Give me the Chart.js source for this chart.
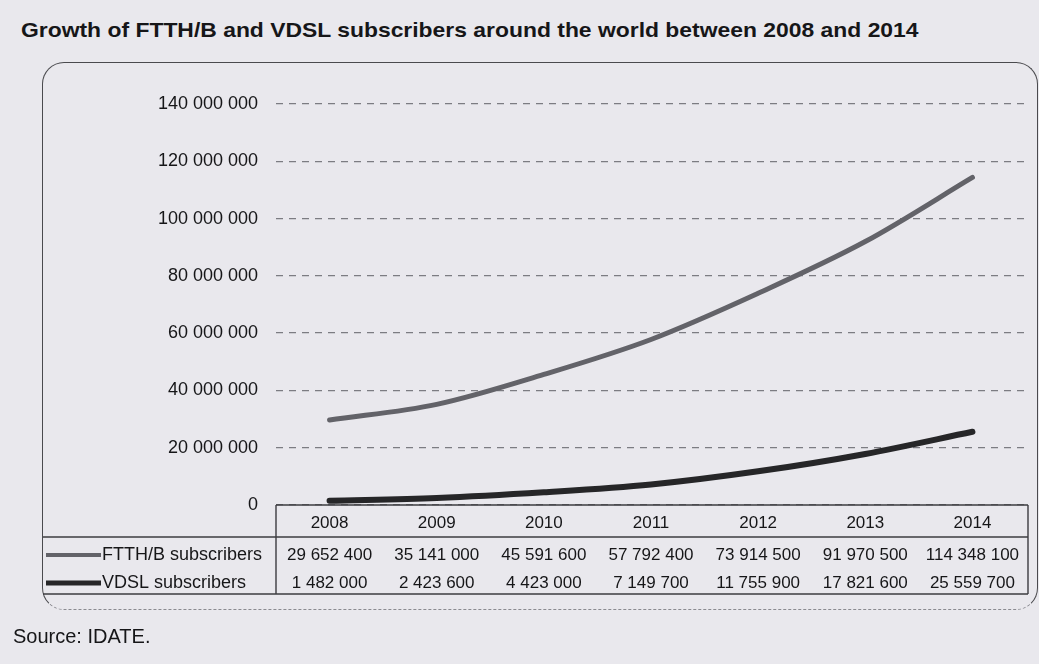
<!DOCTYPE html>
<html>
<head>
<meta charset="utf-8">
<script src="https://cdn.jsdelivr.net/npm/chart.js@4.4.1/dist/chart.umd.min.js"></script>
<style>
  html, body { margin: 0; padding: 0; }
  body { width: 1039px; height: 664px; background: #e9e8ed; position: relative; overflow: hidden; font-family: 'Liberation Sans', Arial, sans-serif; color: #161618; }
  #title { position: absolute; left: 21px; top: 18px; font-size: 21px; font-weight: bold; white-space: nowrap; transform: scaleX(1.09); transform-origin: left top; }
  #frame { position: absolute; left: 42px; top: 62px; width: 994px; height: 546px; border: 1.6px solid #4a4a4e; border-bottom: 1.6px dashed #8a8a90; border-radius: 22px; }
  #chart { position: absolute; left: 0; top: 0; }
  #source { position: absolute; left: 13px; top: 625px; font-size: 20px; }
</style>
</head>
<body>
<div id="title">Growth of FTTH/B and VDSL subscribers around the world between 2008 and 2014</div>
<div id="frame"></div>
<canvas id="chart" width="1039" height="664"></canvas>
<div id="source">Source: IDATE.</div>
<script>
// ===== DATA =====
const years = ['2008', '2009', '2010', '2011', '2012', '2013', '2014'];
const ftthSubs = [29652400, 35141000, 45591600, 57792400, 73914500, 91970500, 114348100];
const vdslSubs = [1482000, 2423600, 4423000, 7149700, 11755900, 17821600, 25559700];
const seriesNames = ['FTTH/B subscribers', 'VDSL subscribers'];
const yMax = 140000000, yStep = 20000000;

const family = "'Liberation Sans', Arial, sans-serif";
const ink = '#161618';

// 29652400 -> "29 652 400"
const fmt = n => String(n).replace(/\B(?=(\d{3})+(?!\d))/g, ' ');

// ===== DATA TABLE under the plot =====
const tablePlugin = {
  id: 'dataTable',
  afterDraw(chart) {
    const { ctx, chartArea: a, scales: { x } } = chart;
    const top = a.bottom, headBottom = top + 32, bottom = top + 89;
    const left = a.left, right = a.right + 2, frameLeft = 43;
    const rowY = [top + 50, top + 78];

    ctx.save();
    ctx.strokeStyle = '#3c3c40';
    ctx.lineWidth = 1.4;
    ctx.beginPath();
    ctx.moveTo(left, top); ctx.lineTo(right, top);
    ctx.moveTo(left, top); ctx.lineTo(left, bottom);
    ctx.moveTo(right, top); ctx.lineTo(right, bottom);
    ctx.moveTo(frameLeft, headBottom); ctx.lineTo(right, headBottom);
    ctx.moveTo(frameLeft, bottom); ctx.lineTo(right, bottom);
    ctx.stroke();

    ctx.fillStyle = ink;
    ctx.textBaseline = 'middle';
    chart.data.datasets.forEach((ds, r) => {
      // legend swatch + series name
      ctx.strokeStyle = ds.borderColor;
      ctx.lineWidth = r === 0 ? 4 : 5;
      ctx.beginPath();
      ctx.moveTo(46, rowY[r]); ctx.lineTo(101, rowY[r]);
      ctx.stroke();
      ctx.font = '18px ' + family;
      ctx.textAlign = 'left';
      ctx.fillText(ds.label, 102, rowY[r]);
      // values
      ctx.font = '17px ' + family;
      ctx.textAlign = 'center';
      ds.data.forEach((v, i) => ctx.fillText(fmt(v), x.getPixelForValue(i), rowY[r]));
    });
    ctx.restore();
  }
};

new Chart(document.getElementById('chart'), {
  type: 'line',
  data: {
    labels: years,
    datasets: [
      { label: seriesNames[0], data: ftthSubs, borderColor: '#636369', borderWidth: 5 },
      { label: seriesNames[1], data: vdslSubs, borderColor: '#262628', borderWidth: 6 }
    ]
  },
  options: {
    responsive: false,
    animation: false,
    layout: { padding: { top: 104, right: 13, left: 0, bottom: 0 } },
    elements: {
      point: { radius: 0 },
      line: { cubicInterpolationMode: 'monotone', borderCapStyle: 'round', borderJoinStyle: 'round' }
    },
    plugins: { legend: { display: false }, tooltip: { enabled: false } },
    scales: {
      x: {
        offset: true,
        grid: { display: false, drawTicks: false },
        border: { display: false },
        ticks: { color: ink, font: { family, size: 17 }, padding: 8, maxRotation: 0 },
        afterFit: s => { s.height = 159; }
      },
      y: {
        min: 0, max: yMax,
        grid: { color: '#7c7c82', lineWidth: 1.3, drawTicks: false },
        border: { display: false, dash: [7, 6] },
        ticks: { stepSize: yStep, color: ink, font: { family, size: 18 }, padding: 18, callback: v => fmt(v) },
        afterFit: s => { s.width = 276; }
      }
    }
  },
  plugins: [tablePlugin]
});
</script>
</body>
</html>
